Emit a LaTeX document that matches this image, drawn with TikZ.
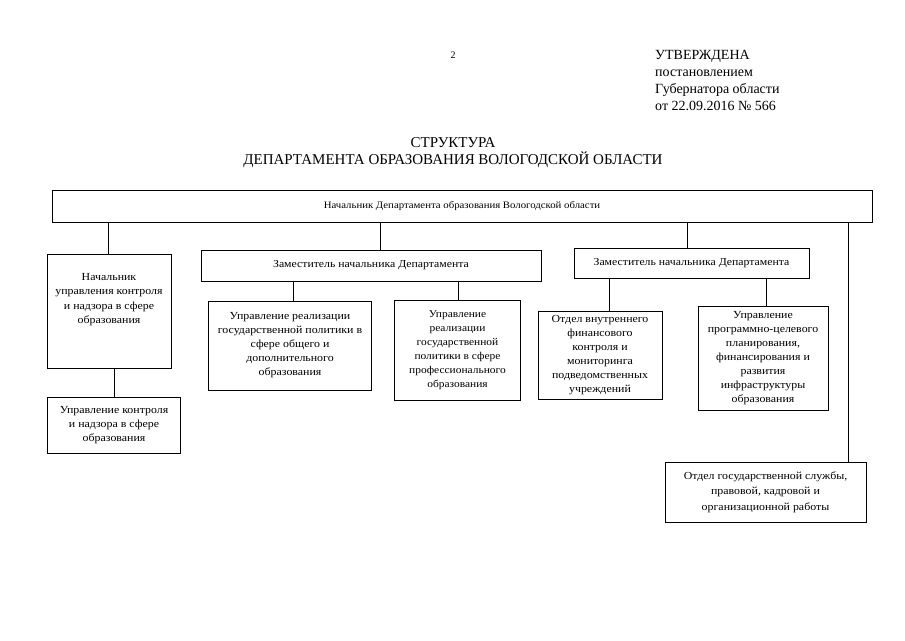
\documentclass[tikz,border=0pt]{standalone}
\usepackage{fontspec}
\setmainfont{Liberation Serif}
\newfontfamily\boxfont[FakeStretch=1.1]{Liberation Serif}
\begin{document}
\begin{tikzpicture}[x=1pt,y=-1pt,
  box/.style={draw, line width=0.8pt, inner sep=0pt, align=center,
    font=\boxfont\fontsize{10.8}{14}\selectfont},
  txt/.style={inner sep=0pt, align=center, font=\boxfont\fontsize{10.8}{14.5}\selectfont},
  conn/.style={line width=0.8pt}]
\useasboundingbox (0,0) rectangle (905,640);
% header
\node[inner sep=0pt, font=\fontsize{10}{12}\selectfont] (pg) at (453,55) {2};
\node[inner sep=0pt, anchor=north west, align=left, font=\fontsize{14}{17}\selectfont] (utv) at (655,50)
  {УТВЕРЖДЕНА\\постановлением\\Губернатора области\\от 22.09.2016 № 566};
\node[inner sep=0pt, align=center, font=\fontsize{15}{17}\selectfont] (title) at (453,153)
  {СТРУКТУРА\\ДЕПАРТАМЕНТА ОБРАЗОВАНИЯ ВОЛОГОДСКОЙ ОБЛАСТИ};
% boxes
\node[box, minimum width=820, minimum height=32, font=\boxfont\fontsize{9.8}{12}\selectfont] (top) at (462,206)
  {Начальник Департамента образования Вологодской области};
\node[box, minimum width=124, minimum height=114] (nach) at (109,311) {};
\node[txt, anchor=north] (nachT) at (109,273) {Начальник\\управления контроля\\и надзора в сфере\\образования};
\node[box, minimum width=133, minimum height=56] (ukn) at (114,425)
  {Управление контроля\\и надзора в сфере\\образования};
\node[box, minimum width=340, minimum height=31, font=\boxfont\fontsize{10.7}{12}\selectfont] (z1) at (371,265.5)
  {Заместитель начальника Департамента};
\node[box, minimum width=163, minimum height=89] (ob) at (290,345.5)
  {Управление реализации\\государственной политики в\\сфере общего и\\дополнительного\\образования};
\node[box, minimum width=126, minimum height=100, font=\boxfont\fontsize{10.4}{14}\selectfont] (pr) at (457.5,350)
  {Управление\\реализации\\государственной\\политики в сфере\\профессионального\\образования};
\node[box, minimum width=235, minimum height=30, font=\boxfont\fontsize{10.7}{12}\selectfont] (z2) at (691.5,263)
  {Заместитель начальника Департамента};
\node[box, minimum width=124, minimum height=88] (fin) at (600,355)
  {Отдел внутреннего\\финансового\\контроля и\\мониторинга\\подведомственных\\учреждений};
\node[box, minimum width=130, minimum height=104] (prog) at (763,358)
  {Управление\\программно-целевого\\планирования,\\финансирования и\\развития\\инфраструктуры\\образования};
\node[box, minimum width=201, minimum height=60, font=\boxfont\fontsize{10.8}{15.5}\selectfont] (gos) at (765.5,492)
  {Отдел государственной службы,\\правовой, кадровой и\\организационной работы};
% connectors
\draw[conn] (top.south -| 108,0) -- (nach.north -| 108,0);
\draw[conn] (top.south -| 380,0) -- (z1.north -| 380,0);
\draw[conn] (top.south -| 687,0) -- (z2.north -| 687,0);
\draw[conn] (top.south -| 848,0) -- (gos.north -| 848,0);
\draw[conn] (nach.south -| 114,0) -- (ukn.north -| 114,0);
\draw[conn] (z1.south -| 293,0) -- (ob.north -| 293,0);
\draw[conn] (z1.south -| 458,0) -- (pr.north -| 458,0);
\draw[conn] (z2.south -| 609,0) -- (fin.north -| 609,0);
\draw[conn] (z2.south -| 766,0) -- (prog.north -| 766,0);
\end{tikzpicture}
\end{document}
